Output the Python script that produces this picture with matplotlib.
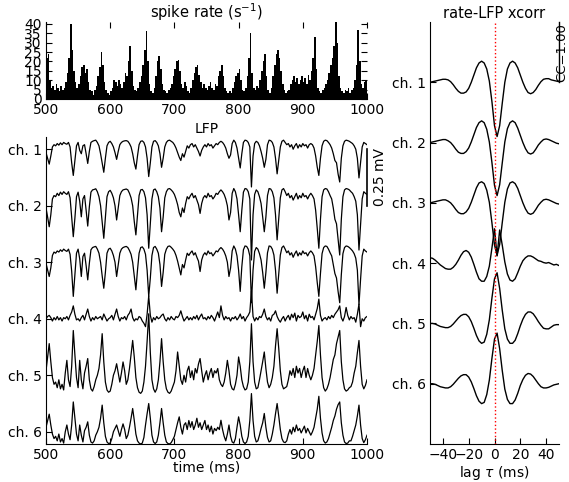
import numpy as np
import matplotlib
matplotlib.use('Agg')
import matplotlib.pyplot as plt

plt.rcParams['font.family'] = ['DejaVu Sans']
plt.rcParams['font.size'] = 10

# ---- data ----
# spike rate histogram, 2.5 ms bins from 500 to 1000 ms (spikes / s)
rate_bin = 2.5
rate = [22, 24, 10, 6, 7, 5, 8, 6, 4, 7,
        5, 6, 9, 14, 22, 40, 26, 15, 9, 6,
        8, 12, 17, 18, 14, 16, 9, 5, 4, 2,
        5, 7, 12, 17, 25, 18, 9, 5, 3, 2,
        4, 6, 10, 9, 7, 10, 8, 6, 9, 14,
        12, 20, 28, 15, 7, 5, 4, 6, 9, 12,
        18, 26, 36, 20, 8, 4, 3, 6, 12, 20,
        23, 16, 8, 5, 4, 3, 5, 6, 8, 12,
        16, 20, 21, 15, 8, 6, 9, 7, 4, 3,
        6, 10, 14, 17, 18, 13, 9, 6, 8, 6,
        5, 7, 9, 6, 5, 8, 7, 12, 15, 18,
        12, 6, 4, 3, 4, 3, 6, 9, 12, 14,
        16, 10, 5, 4, 6, 12, 22, 35, 14, 6,
        5, 7, 6, 10, 15, 20, 24, 12, 5, 3,
        6, 12, 18, 24, 26, 22, 15, 8, 5, 3,
        4, 5, 8, 10, 12, 9, 11, 8, 10, 12,
        9, 11, 8, 13, 10, 15, 22, 33, 16, 6,
        4, 3, 5, 6, 8, 10, 14, 18, 22, 28,
        41, 30, 12, 6, 4, 3, 5, 4, 6, 3,
        5, 6, 10, 18, 37, 20, 8, 6, 9, 10]

# LFP traces, sampled every 2.5 ms from 500 to 1000 ms (uV, relative to channel offset)
lfp_ch1 = [-15, -40, -66, -30, 10, 20, 15, 25, 18, 28,
           20, 30, 25, 22, 30, 10, -60, -116, -50, 15,
           30, -5, -20, 15, 20, -20, -63, -10, 30, 35,
           38, 40, 30, 15, -20, -60, -102, -40, 15, 30,
           35, 25, 10, -15, -45, -10, 20, 30, 35, 37,
           38, 35, 25, 10, -20, -60, -88, -30, 20, 35,
           37, 30, 10, -40, -121, -60, 10, 35, 38, 30,
           15, -20, -80, -40, 10, 30, 38, 40, 35, 30,
           20, 5, -15, -35, -50, -20, -35, -10, 15, 5,
           20, 25, 10, 20, 5, -10, -30, -5, 10, 20,
           10, 25, 15, 20, 5, 15, 25, 20, 30, 35,
           30, 20, 5, -20, -40, -25, 25, 40, 30, 5,
           -40, -83, -20, 30, 40, 38, 30, 10, -167, -30,
           25, 35, 30, 15, -10, -40, -80, -45, 20, 40,
           38, 30, 10, -40, -109, -50, 10, 35, 40, 30,
           20, 25, 10, 20, 0, 15, 25, 5, 20, 10,
           25, 15, 20, 5, 20, 25, 20, 5, -30, -80,
           -116, -40, 15, 35, 40, 38, 30, 20, 5, -20,
           -50, -60, -110, -145, -40, 15, 35, 40, 38, 35,
           30, 25, 15, 0, -40, -127, -60, 10, 30, 25,
           20]
lfp_ch2 = [-10, -50, -93, -40, 30, 45, 40, 55, 45, 60,
           50, 62, 55, 50, 62, 35, -50, -137, -55, 40,
           60, 20, -49, 30, 45, -20, -90, -5, 60, 70,
           72, 75, 62, 40, 0, -70, -144, -50, 40, 62,
           68, 55, 35, 0, -63, -10, 45, 62, 70, 72,
           74, 70, 55, 35, 0, -70, -129, -40, 45, 70,
           72, 62, 35, -40, -188, -80, 30, 70, 74, 62,
           40, -10, -115, -50, 35, 62, 74, 76, 70, 62,
           50, 30, 5, -30, -49, -10, -30, 10, 40, 30,
           45, 55, 35, 45, 25, 5, -34, 10, 35, 45,
           35, 55, 40, 45, 30, 40, 55, 50, 62, 70,
           62, 50, 30, 0, -63, -30, 55, 76, 62, 30,
           -40, -115, -20, 60, 76, 74, 62, 30, -240, -40,
           50, 70, 62, 40, 10, -50, -115, -50, 45, 76,
           74, 62, 35, -40, -151, -60, 35, 70, 76, 62,
           45, 55, 35, 45, 25, 40, 55, 30, 45, 35,
           55, 40, 45, 30, 45, 55, 45, 30, -20, -100,
           -188, -60, 40, 70, 76, 74, 62, 45, 30, -10,
           -60, -80, -150, -218, -60, 40, 70, 76, 74, 70,
           62, 55, 40, 20, -40, -196, -80, 30, 62, 55,
           50]
lfp_ch3 = [-5, -35, -63, -25, 30, 45, 40, 50, 45, 55,
           48, 58, 52, 48, 58, 35, -40, -151, -55, 40,
           58, 15, -63, 25, 40, -15, -78, -5, 55, 65,
           68, 70, 58, 40, 0, -60, -115, -45, 40, 58,
           62, 50, 30, 0, -63, -10, 40, 58, 65, 68,
           70, 65, 52, 35, 0, -60, -122, -35, 40, 65,
           68, 58, 35, -35, -151, -70, 30, 65, 70, 58,
           40, -10, -107, -45, 35, 58, 70, 72, 66, 58,
           48, 30, 5, -25, -56, -10, -25, 10, 40, 30,
           42, 50, 32, 42, 22, 5, -41, 10, 32, 42,
           32, 50, 38, 42, 28, 38, 50, 46, 58, 65,
           58, 46, 28, 0, -63, -25, 50, 72, 58, 28,
           -35, -129, -20, 55, 72, 70, 58, 28, -179, -35,
           48, 65, 58, 38, 10, -45, -115, -45, 42, 72,
           70, 58, 32, -35, -137, -55, 32, 65, 72, 58,
           42, 50, 32, 42, 22, 38, 50, 28, 42, 32,
           50, 38, 42, 28, 42, 50, 42, 28, -20, -90,
           -151, -50, 38, 65, 72, 70, 58, 42, 28, -10,
           -50, -70, -130, -179, -55, 38, 65, 72, 70, 65,
           58, 50, 38, 18, -35, -188, -75, 28, 58, 50,
           45]
lfp_ch4 = [0, 10, 15, 5, -10, 5, -5, 10, -5, 5,
           -10, 5, 0, 10, -5, 15, 30, 57, 20, -5,
           0, -10, 5, 15, -5, 20, 43, 10, -10, 5,
           -5, 10, 0, 5, 10, -5, 21, 5, -10, 0,
           5, 15, -5, 20, 43, 10, -10, 5, 0, 10,
           -5, 15, 25, 43, 5, -10, 0, -5, 10, 5,
           -10, -20, -35, 20, 101, 15, -15, 5, -5, 10,
           0, 5, 15, 21, 0, -10, 5, -5, 10, 0,
           -5, 10, 5, 15, 35, 10, -10, 0, 10, -5,
           5, -5, 10, 0, 15, -5, 10, 21, 0, 5,
           -5, 10, 0, 15, 5, -10, 10, 30, 5, 57,
           15, -5, 10, 0, 5, -10, 5, 0, 10, -5,
           5, 21, 0, 10, -10, 5, 15, 30, 123, 10,
           -10, 5, -5, 10, 5, 20, 43, 10, -5, 5,
           -10, 15, 20, 35, 10, -5, -15, 0, 10, -10,
           5, 15, -5, 20, 5, 25, -10, 15, 5, 10,
           30, 0, 15, -10, 20, 5, 10, -5, 20, 45,
           87, 15, -10, 0, 5, -5, 10, 0, 15, 5,
           20, 30, 40, 57, 5, -10, 10, 50, 15, -5,
           10, 0, 5, -15, 20, 65, -35, 0, -10, 5,
           10]
lfp_ch5 = [20, 80, 140, 60, -10, -40, -30, -55, -20, -60,
           -40, -65, 10, 66, -20, -50, 40, 198, 90, -10,
           -55, 66, -20, -60, 10, 40, 74, -20, -60, -70,
           -50, -20, 0, 30, 90, 184, 60, -30, -65, -75,
           -70, -40, 0, 20, 51, 10, -30, 10, 59, 20,
           -40, -20, 30, 90, 154, 80, -10, -55, -75, -80,
           -70, -30, 40, 150, 272, 100, -20, -60, -75, -60,
           -20, 60, 162, 60, -20, -60, -75, -80, -70, -50,
           -30, 20, 103, 40, -20, -40, 0, -30, 20, 40,
           -10, 20, -20, 30, 10, 50, 74, 20, -30, 0,
           20, -20, 10, 30, -10, 20, 10, 30, -20, -40,
           -50, -30, 10, 66, 20, -40, -60, -65, -40, 0,
           81, 40, -20, -50, -65, -60, -30, 60, 228, 60,
           -30, -60, -55, -20, 20, 60, 103, 30, -30, -55,
           -40, -10, 40, 130, 206, 120, 20, -40, -60, -55,
           -50, -20, 20, 0, 30, -10, 40, 10, 30, -10,
           20, 40, -10, 30, 0, -20, 0, 30, 90, 150,
           220, 90, -10, -55, -70, -60, -40, -10, 30, 70,
           90, 140, 170, 198, 60, -20, -60, -70, -65, -55,
           -50, -30, 10, 40, 100, 154, 40, -40, -60, -45,
           -20]
lfp_ch6 = [20, 50, 78, 30, -10, -30, -20, -40, -10, -45,
           -30, -50, 0, 30, -10, -35, 30, 132, 60, -10,
           -40, 30, -15, -45, 5, 20, 44, -15, -45, -50,
           -40, -15, 0, 20, 60, 118, 40, -20, -45, -52,
           -50, -30, 0, 15, 30, 5, -20, 10, 35, 10,
           -30, -15, 20, 60, 103, 50, -10, -40, -50, -54,
           -50, -25, 30, 80, 125, 60, -15, -45, -52, -45,
           -15, 40, 103, 40, -15, -45, -52, -54, -48, -35,
           -20, 10, 40, 66, 20, -10, 30, 40, 10, 50,
           20, 45, 10, 30, 60, 20, 40, 10, 30, 50,
           10, 30, 0, 25, -10, 15, 5, 20, 10, 51,
           10, -20, -40, -10, 30, -20, -45, -50, -30, 20,
           66, 30, -20, -45, -52, -45, -20, 50, 169, 50,
           -20, -45, -40, -15, 15, 40, 81, 20, -25, -45,
           -40, -10, 30, 80, 125, 70, 10, -30, -45, -48,
           -40, -10, 10, -10, 20, 0, 30, 5, 15, -5,
           10, 25, -5, 15, 0, -15, 0, 20, 60, 100,
           157, 60, -5, -40, -50, -45, -30, -5, 20, 50,
           70, 100, 120, 132, 40, -15, -45, -52, -50, -40,
           -40, -20, 5, 30, 70, 118, 30, -30, -48, -35,
           -15]

# rate-LFP cross-correlation, lags -50..50 ms every 2 ms
xc_ch1 = [0.00, 0.01, 0.02, 0.03, 0.04, 0.05, 0.05, 0.04, 0.01, -0.04,
          -0.10, -0.15, -0.18, -0.18, -0.16, -0.10, 0.00, 0.12, 0.24, 0.32,
          0.35, 0.32, 0.22, 0.02, -0.32, -0.72, -0.90, -0.72, -0.35, 0.00,
          0.22, 0.32, 0.35, 0.32, 0.24, 0.12, 0.00, -0.10, -0.17, -0.19,
          -0.17, -0.12, -0.05, 0.01, 0.05, 0.06, 0.06, 0.04, 0.03, 0.02,
          0.01]
xc_ch2 = [0.00, 0.01, 0.02, 0.03, 0.04, 0.05, 0.05, 0.03, 0.00, -0.05,
          -0.11, -0.16, -0.18, -0.18, -0.15, -0.09, 0.01, 0.13, 0.25, 0.33,
          0.36, 0.33, 0.22, 0.01, -0.33, -0.71, -0.88, -0.70, -0.34, 0.01,
          0.23, 0.33, 0.36, 0.33, 0.24, 0.12, 0.00, -0.10, -0.17, -0.19,
          -0.17, -0.11, -0.04, 0.01, 0.05, 0.06, 0.05, 0.03, 0.01, -0.01,
          -0.02]
xc_ch3 = [0.00, 0.01, 0.02, 0.03, 0.04, 0.05, 0.05, 0.03, 0.00, -0.05,
          -0.11, -0.16, -0.18, -0.18, -0.15, -0.09, 0.01, 0.13, 0.25, 0.33,
          0.35, 0.32, 0.21, 0.01, -0.33, -0.70, -0.87, -0.69, -0.33, 0.01,
          0.23, 0.33, 0.35, 0.32, 0.24, 0.12, 0.00, -0.10, -0.17, -0.19,
          -0.17, -0.11, -0.04, 0.01, 0.05, 0.06, 0.05, 0.03, 0.01, -0.01,
          -0.02]
xc_ch4 = [0.09, 0.08, 0.05, 0.01, -0.03, -0.06, -0.09, -0.10, -0.10, -0.07,
          -0.02, 0.05, 0.13, 0.19, 0.21, 0.18, 0.10, -0.02, -0.15, -0.26,
          -0.30, -0.30, -0.22, -0.05, 0.25, 0.57, 0.12, 0.55, 0.30, 0.02,
          -0.18, -0.28, -0.30, -0.26, -0.16, -0.05, 0.04, 0.09, 0.12, 0.12,
          0.10, 0.07, 0.04, 0.03, 0.01, 0.00, 0.01, -0.01, -0.03, -0.02,
          -0.04]
xc_ch5 = [0.00, 0.00, -0.01, -0.03, -0.05, -0.06, -0.07, -0.07, -0.05, -0.01,
          0.04, 0.09, 0.13, 0.15, 0.15, 0.11, 0.03, -0.08, -0.20, -0.29,
          -0.33, -0.31, -0.18, 0.06, 0.42, 0.74, 0.84, 0.58, 0.22, -0.09,
          -0.26, -0.33, -0.33, -0.28, -0.17, -0.04, 0.07, 0.15, 0.19, 0.19,
          0.16, 0.10, 0.03, -0.03, -0.08, -0.09, -0.09, -0.06, -0.03, -0.02,
          -0.02]
xc_ch6 = [0.00, 0.00, -0.01, -0.03, -0.05, -0.06, -0.07, -0.07, -0.05, -0.01,
          0.04, 0.09, 0.13, 0.15, 0.15, 0.11, 0.03, -0.08, -0.20, -0.29,
          -0.33, -0.31, -0.18, 0.06, 0.42, 0.74, 0.84, 0.58, 0.22, -0.09,
          -0.26, -0.33, -0.33, -0.27, -0.16, -0.03, 0.07, 0.14, 0.17, 0.16,
          0.12, 0.06, 0.00, -0.05, -0.07, -0.07, -0.06, -0.04, -0.02, -0.01,
          0.00]

ch_labels = ['ch. 1', 'ch. 2', 'ch. 3', 'ch. 4', 'ch. 5', 'ch. 6']
lfp_traces = [lfp_ch1, lfp_ch2, lfp_ch3, lfp_ch4, lfp_ch5, lfp_ch6]
xc_traces = [xc_ch1, xc_ch2, xc_ch3, xc_ch4, xc_ch5, xc_ch6]
lfp_spacing = 0.25   # mV between channels
xc_spacing = 1.0     # CC between channels

t_lfp = np.linspace(500, 1000, len(lfp_ch1))
t_rate = 500 + rate_bin * np.arange(len(rate))
lags = np.linspace(-50, 50, len(xc_ch1))


def style(ax, top=False, right=False):
    ax.spines['top'].set_visible(False)
    ax.spines['right'].set_visible(False)
    ax.tick_params(direction='in', length=4, top=top, right=right,
                   labelsize=10, pad=3)


fig = plt.figure(figsize=(5.69, 4.82), dpi=100)
W, H = 569.0, 482.0

# spike rate
ax1 = fig.add_axes([46 / W, 1 - 99 / H, 321 / W, 77 / H])
ax1.bar(t_rate, rate, width=rate_bin, align='edge', color='k', linewidth=0)
ax1.set_xlim(500, 1000)
ax1.set_ylim(0, 41)
ax1.set_xticks(range(500, 1001, 100))
ax1.set_yticks(range(0, 41, 5))
ax1.set_title('spike rate (s$^{-1}$)', fontsize=10.5, pad=3)
style(ax1, top=True, right=True)

# LFP
ax2 = fig.add_axes([46 / W, 1 - 444 / H, 321 / W, 307 / H])
offsets = [-lfp_spacing * i for i in range(6)]
for tr, off in zip(lfp_traces, offsets):
    ax2.plot(t_lfp, off + np.array(tr) / 1000.0, color='k', lw=0.9)
ax2.set_xlim(500, 1000)
ax2.set_ylim(offsets[-1] - 0.054, 0.054)
ax2.set_xticks(range(500, 1001, 100))
ax2.set_yticks(offsets)
ax2.set_yticklabels(ch_labels)
ax2.set_xlabel('time (ms)', fontsize=10, labelpad=-1)
ax2.set_title('LFP', fontsize=10, pad=3)
style(ax2)
ax2.plot([1000, 1000], [0, -lfp_spacing], color='k', lw=1.2, clip_on=False)
ax2.text(1009, -lfp_spacing / 2, '0.25 mV', rotation=90, ha='left',
         va='center', fontsize=10)

# xcorr
ax3 = fig.add_axes([430 / W, 1 - 444 / H, 129 / W, 422 / H])
xoffs = [-xc_spacing * i for i in range(6)]
for tr, off in zip(xc_traces, xoffs):
    ax3.plot(lags, off + np.array(tr), color='k', lw=1.0)
ax3.axvline(0, color='r', ls=':', lw=1.0)
ax3.set_xlim(-50, 50)
ax3.set_ylim(xoffs[-1] - 1.0, 1.0)
ax3.set_xticks([-40, -20, 0, 20, 40])
ax3.set_yticks(xoffs)
ax3.set_yticklabels(ch_labels)
ax3.set_xlabel(r'lag $\tau$ (ms)', fontsize=10, labelpad=1)
ax3.set_title('rate-LFP xcorr', fontsize=10.5, pad=3)
style(ax3)
ax3.plot([50, 50], [0, xc_spacing], color='k', lw=1.0, clip_on=False)
ax3.text(52.0, 0.5, 'CC=1.00', rotation=90, ha='center', va='center',
         fontsize=9.5)

fig.savefig('out.png', dpi=100)
